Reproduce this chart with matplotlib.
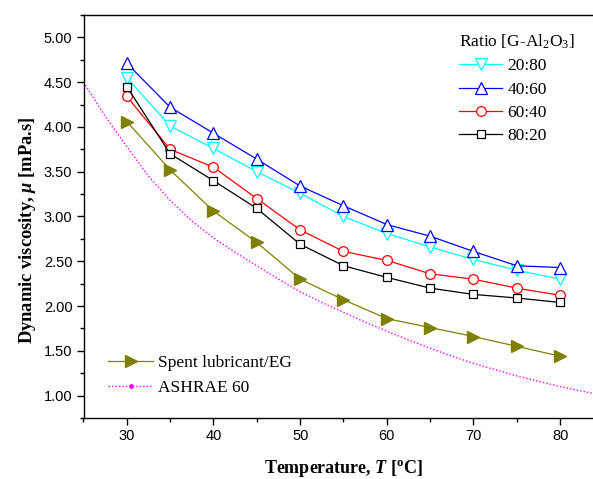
import matplotlib

matplotlib.use("Agg")
import matplotlib.pyplot as plt
from matplotlib.lines import Line2D
from matplotlib.ticker import FormatStrFormatter, MultipleLocator

temps = [30, 35, 40, 45, 50, 55, 60, 65, 70, 75, 80]
ratio_labels = ["20:80", "40:60", "60:40", "80:20"]
visc_20_80 = [4.55, 4.01, 3.76, 3.50, 3.26, 3.00, 2.81, 2.66, 2.52, 2.40, 2.30]
visc_40_60 = [4.71, 4.22, 3.93, 3.64, 3.34, 3.12, 2.91, 2.78, 2.61, 2.45, 2.43]
visc_60_40 = [4.34, 3.75, 3.55, 3.20, 2.85, 2.61, 2.51, 2.36, 2.30, 2.20, 2.12]
visc_80_20 = [4.45, 3.70, 3.40, 3.09, 2.69, 2.45, 2.32, 2.20, 2.13, 2.09, 2.04]
visc_spent = [4.06, 3.52, 3.06, 2.71, 2.30, 2.07, 1.86, 1.76, 1.66, 1.55, 1.44]

ashrae_temps = [25, 27.5, 30, 32.5, 35, 37.5, 40, 42.5, 45, 47.5, 50, 52.5, 55,
                57.5, 60, 62.5, 65, 67.5, 70, 72.5, 75, 77.5, 80, 82.5, 85]
ashrae_visc = [4.50, 4.12, 3.78, 3.45, 3.18, 2.95, 2.76, 2.60, 2.45, 2.30, 2.16,
               2.04, 1.93, 1.82, 1.72, 1.62, 1.53, 1.44, 1.36, 1.29, 1.22, 1.16,
               1.10, 1.05, 1.00]

plt.rcParams["font.family"] = ["Liberation Sans", "DejaVu Sans"]
plt.rcParams["mathtext.fontset"] = "custom"
plt.rcParams["mathtext.rm"] = "Liberation Serif"
plt.rcParams["mathtext.it"] = "Liberation Serif:italic"
plt.rcParams["mathtext.bf"] = "Liberation Serif:bold"
plt.rcParams["mathtext.bfit"] = "Liberation Serif:italic:bold"

fig = plt.figure(figsize=(5.93, 4.79), dpi=100)
ax = fig.add_axes([83.5 / 593, 61 / 479, 520 / 593, 403 / 479])

series = [
    (visc_20_80, "#00FFFF", "v", 8),
    (visc_40_60, "#0000FF", "^", 8),
    (visc_60_40, "#FF0000", "o", 7),
    (visc_80_20, "#000000", "s", 5.5),
]
ratio_handles = []
for (vals, color, marker, ms), label in zip(series, ratio_labels):
    (h,) = ax.plot(
        temps, vals, color=color, lw=0.9, marker=marker, ms=ms,
        mfc="white", mec=color, mew=0.9, label=label,
    )
    ratio_handles.append(h)

(spent,) = ax.plot(
    temps, visc_spent, color="#808000", lw=0.9, marker=">", ms=8,
    mfc="#808000", mec="#808000", label="Spent lubricant/EG",
)
ax.plot(ashrae_temps, ashrae_visc, color="#FF00FF", lw=1.0, ls=(0, (1, 1.5)))
ashrae_handle = Line2D(
    [], [], color="#FF00FF", lw=1.0, ls=(0, (1, 1.5)), marker="o", ms=2.5,
    mfc="#FF00FF", mec="#FF00FF",
)

ax.set_xlim(25, 85)
ax.set_ylim(0.75, 5.25)
ax.xaxis.set_major_locator(MultipleLocator(10))
ax.xaxis.set_minor_locator(MultipleLocator(5))
ax.yaxis.set_major_locator(MultipleLocator(0.5))
ax.yaxis.set_minor_locator(MultipleLocator(0.25))
ax.yaxis.set_major_formatter(FormatStrFormatter("%.2f"))
ax.tick_params(which="both", direction="out", width=1.0, labelsize=10.5, top=False, right=False)
ax.tick_params(which="major", length=5, pad=3)
ax.tick_params(which="minor", length=3)
for sp in ax.spines.values():
    sp.set_linewidth(1.0)

ax.set_xlabel(r"Temperature, $\mathbfit{T}$ [$^{\mathbf{o}}$C]",
              family="Liberation Serif", fontweight="bold", fontsize=13)
ax.set_ylabel(r"Dynamic viscosity, $\mathbfit{\mu}$ [mPa.s]",
              family="Liberation Serif", fontweight="bold", fontsize=13.3)
ax.xaxis.set_label_coords(0.5, -0.099)
ax.yaxis.set_label_coords(-0.088, 0.465)

leg_font = {"family": "Liberation Serif", "size": 12.5}
fig.legend(
    handles=ratio_handles, labels=ratio_labels, title=r"Ratio [G-Al$_2$O$_3$]",
    loc="upper left", bbox_to_anchor=(459 / 593, 1 - 33 / 479), frameon=False,
    prop=leg_font, title_fontproperties=leg_font,
    alignment="left", borderpad=0, borderaxespad=0, handlelength=2.5,
    handletextpad=0.3, labelspacing=0.4,
)
fig.legend(
    handles=[spent, ashrae_handle], labels=["Spent lubricant/EG", "ASHRAE 60"],
    loc="upper left", bbox_to_anchor=(108 / 593, 1 - 355 / 479), frameon=False,
    prop=leg_font, borderpad=0, borderaxespad=0, handlelength=2.6,
    handletextpad=0.3, labelspacing=0.5,
)

fig.savefig("out.png", dpi=100)
